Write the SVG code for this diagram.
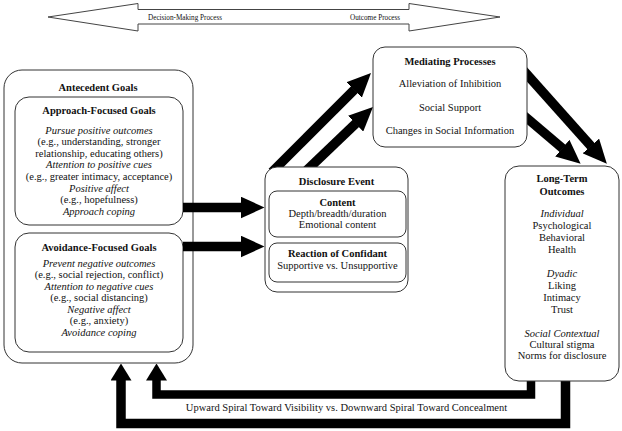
<svg xmlns="http://www.w3.org/2000/svg" width="622" height="431" viewBox="0 0 622 431">
<style>
.box{fill:#fff;stroke:#333;stroke-width:1}
text{font-family:"Liberation Serif","Times New Roman",serif;font-size:10.5px;fill:#111;text-anchor:middle}
.b{font-weight:bold}
.i{font-style:italic}
.small{font-size:7.2px;text-anchor:start}
.conn{fill:none;stroke:#000}
</style>
<defs>
<marker id="head" markerUnits="userSpaceOnUse" viewBox="0 0 24 22" markerWidth="24" markerHeight="22" refX="0.5" refY="11" orient="auto">
<path d="M0,0 L24,11 L0,22 z" fill="#000"/>
</marker>
<marker id="headS" markerUnits="userSpaceOnUse" viewBox="0 0 17 21" markerWidth="17" markerHeight="21" refX="0.5" refY="10.5" orient="auto">
<path d="M0,0 L17,10.5 L0,21 z" fill="#000"/>
</marker>
</defs>
<rect width="622" height="431" fill="#fff"/>

<g id="process-arrow">
<polygon points="48,17 138,3.5 138,9.5 409,9.5 409,3.5 500,17 409,31 409,24 138,24 138,31" fill="#fff" stroke="#444" stroke-width="1"/>
<text class="small" x="148" y="19.5">Decision-Making Process</text>
<text class="small" x="350" y="19.5">Outcome Process</text>
</g>

<g id="antecedent-goals">
<rect class="box" x="4" y="70" width="189" height="293" rx="18"/>
<text class="b" x="98" y="90.5">Antecedent Goals</text>
<g id="approach-goals">
<rect class="box" x="15" y="97" width="168" height="128" rx="14"/>
<text class="b" x="99" y="114">Approach-Focused Goals</text>
<text class="i" x="99" y="133.5">Pursue positive outcomes</text>
<text x="99" y="145.1">(e.g., understanding, stronger</text>
<text x="99" y="156.7">relationship, educating others)</text>
<text class="i" x="99" y="168.3">Attention to positive cues</text>
<text x="99" y="179.9">(e.g., greater intimacy, acceptance)</text>
<text class="i" x="99" y="191.5">Positive affect</text>
<text x="99" y="203.1">(e.g., hopefulness)</text>
<text class="i" x="99" y="214.7">Approach coping</text>
</g>
<g id="avoidance-goals">
<rect class="box" x="15" y="233" width="168" height="119" rx="14"/>
<text class="b" x="99" y="250.5">Avoidance-Focused Goals</text>
<text class="i" x="99" y="266.5">Prevent negative outcomes</text>
<text x="99" y="278">(e.g., social rejection, conflict)</text>
<text class="i" x="99" y="289.5">Attention to negative cues</text>
<text x="99" y="301">(e.g., social distancing)</text>
<text class="i" x="99" y="312.5">Negative affect</text>
<text x="99" y="324">(e.g., anxiety)</text>
<text class="i" x="99" y="335.5">Avoidance coping</text>
</g>
</g>

<g id="connectors">
<line class="conn" x1="183" y1="207.5" x2="241" y2="207.5" stroke-width="9.5" marker-end="url(#head)"/>
<line class="conn" x1="183" y1="246.5" x2="241" y2="246.5" stroke-width="9.5" marker-end="url(#head)"/>
<line class="conn" x1="272" y1="172" x2="354.4" y2="89.6" stroke-width="9.5" marker-end="url(#head)"/>
<line class="conn" x1="305" y1="172" x2="356" y2="123.3" stroke-width="9.5" marker-end="url(#head)"/>
<line class="conn" x1="515" y1="61" x2="591.2" y2="146.3" stroke-width="9.5" marker-end="url(#head)"/>
<line class="conn" x1="515" y1="108" x2="562.7" y2="148.5" stroke-width="9.5" marker-end="url(#head)"/>
<path class="conn" d="M565.5,372 V423.5 H121 V380" stroke-width="9.5" stroke-linejoin="miter" marker-end="url(#headS)"/>
<path class="conn" d="M531,372 V394.5 H156.5 V380" stroke-width="8.5" stroke-linejoin="miter" marker-end="url(#headS)"/>
<text x="346.5" y="411">Upward Spiral Toward Visibility vs. Downward Spiral Toward Concealment</text>
</g>

<g id="mediating-processes">
<rect class="box" x="373" y="47" width="154" height="100" rx="12"/>
<text class="b" x="450" y="64.5">Mediating Processes</text>
<text x="450" y="86.5">Alleviation of Inhibition</text>
<text x="450" y="110.5">Social Support</text>
<text x="450" y="133.5">Changes in Social Information</text>
</g>

<g id="disclosure-event">
<rect class="box" x="265" y="167" width="143" height="125" rx="12"/>
<text class="b" x="336.5" y="185">Disclosure Event</text>
<g id="content">
<rect class="box" x="269" y="191" width="137" height="46" rx="8"/>
<text class="b" x="337.5" y="206">Content</text>
<text x="337.5" y="217">Depth/breadth/duration</text>
<text x="337.5" y="228">Emotional content</text>
</g>
<g id="reaction-of-confidant">
<rect class="box" x="269" y="243" width="137" height="39" rx="8"/>
<text class="b" x="337.5" y="257">Reaction of Confidant</text>
<text x="337.5" y="269">Supportive vs. Unsupportive</text>
</g>
</g>

<g id="long-term-outcomes">
<rect class="box" x="505" y="166" width="114" height="215" rx="14"/>
<text class="b" x="562" y="182">Long-Term</text>
<text class="b" x="562" y="194.5">Outcomes</text>
<text class="i" x="562" y="216.5">Individual</text>
<text x="562" y="228.5">Psychological</text>
<text x="562" y="240.5">Behavioral</text>
<text x="562" y="252.5">Health</text>
<text class="i" x="562" y="276.5">Dyadic</text>
<text x="562" y="288.5">Liking</text>
<text x="562" y="300.5">Intimacy</text>
<text x="562" y="312.5">Trust</text>
<text class="i" x="562" y="336.5">Social Contextual</text>
<text x="562" y="347.5">Cultural stigma</text>
<text x="562" y="358.5">Norms for disclosure</text>
</g>
</svg>
